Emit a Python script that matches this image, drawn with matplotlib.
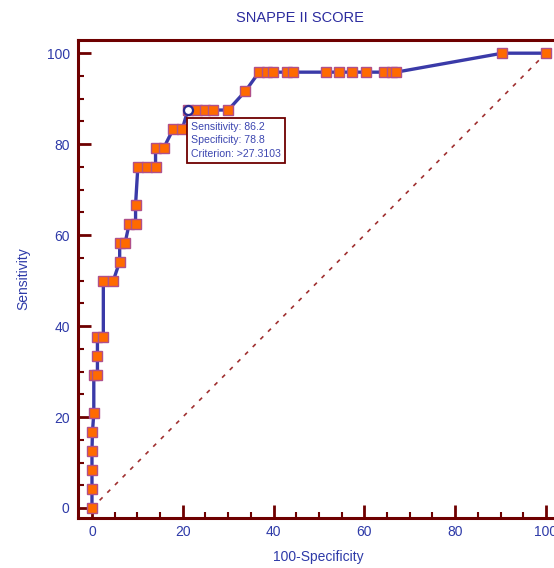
import matplotlib.pyplot as plt
from matplotlib.ticker import MultipleLocator

# ROC points (100-Specificity, Sensitivity)
fpr = [0, 0, 0, 0, 0.1, 0.4, 0.4, 1.2, 1.2, 1.2, 2.5, 2.5, 4.7, 6.1, 6.1, 7.3,
       8.2, 9.6, 9.6, 10.1, 12.1, 14.0, 14.0, 15.8, 17.9, 19.9, 21.1, 23.1,
       24.9, 26.7, 30.0, 33.8, 36.8, 38.6, 39.9, 43.0, 44.2, 51.6, 54.3, 57.3,
       60.3, 64.3, 66.1, 67.0, 90.4, 100]
tpr = [0, 4.17, 8.33, 12.5, 16.67, 20.83, 29.17, 29.17, 33.33, 37.5, 37.5, 50,
       50, 54.17, 58.33, 58.33, 62.5, 62.5, 66.67, 75, 75, 75, 79.17, 79.17,
       83.33, 83.33, 87.5, 87.5, 87.5, 87.5, 87.5, 91.67, 95.83, 95.83, 95.83,
       95.83, 95.83, 95.83, 95.83, 95.83, 95.83, 95.83, 95.83, 95.83, 100, 100]
crit_x, crit_y = 21.1, 87.5
crit_text = 'Sensitivity: 86.2\nSpecificity: 78.8\nCriterion: >27.3103'
ticks = [0, 20, 40, 60, 80, 100]

maroon = '#6e0000'
blue = '#2e3aa8'
plt.rcParams['font.family'] = ['Liberation Sans', 'DejaVu Sans']

fig = plt.figure(figsize=(5.54, 5.68), dpi=100)
ax = fig.add_axes([78 / 554, 50 / 568, 481.6 / 554, 478 / 568])
ax.set_xlim(-3.08, 103)
ax.set_ylim(-2.2, 102.9)

ax.plot([0, 100], [0, 100], color='#a03030', lw=1.2, linestyle=(0, (2.5, 4)), zorder=1)
ax.plot(fpr, tpr, color='#3a3aa8', lw=2.4, zorder=2)
ax.plot(fpr, tpr, linestyle='none', marker='s', markersize=7,
        markerfacecolor='#ff6a00', markeredgecolor='#b0508a', markeredgewidth=1.0, zorder=3)
ax.plot([crit_x], [crit_y], linestyle='none', marker='o', markersize=6.5,
        markerfacecolor='white', markeredgecolor='#2a2a90', markeredgewidth=1.6, zorder=4)
ax.text(21.8, 84.9, crit_text, fontsize=7.6, color='#3c46b0', va='top', ha='left',
        linespacing=1.45, zorder=5,
        bbox=dict(boxstyle='square,pad=0.35', fc='white', ec=maroon, lw=1.3))

for side in ['left', 'bottom', 'top', 'right']:
    ax.spines[side].set_color(maroon)
    ax.spines[side].set_linewidth(2.2)

ax.set_xticks(ticks)
ax.set_yticks(ticks)
ax.xaxis.set_minor_locator(MultipleLocator(5))
ax.yaxis.set_minor_locator(MultipleLocator(5))
ax.tick_params(which='major', direction='in', length=9.5, width=2, color=maroon,
               labelsize=10, labelcolor=blue, pad=5)
ax.tick_params(which='minor', direction='in', length=4.5, width=1.5, color=maroon)
ax.tick_params(axis='y', which='major', pad=6)

ax.set_xlabel('100-Specificity', fontsize=10, color=blue, labelpad=8)
ax.set_ylabel('Sensitivity', fontsize=10, color=blue, labelpad=12)
fig.text(300 / 554, 1 - 18 / 568, 'SNAPPE II SCORE', fontsize=10.5, color='#2b2b9e',
         ha='center', va='center')

plt.savefig('out.png', dpi=100)
plt.close()
